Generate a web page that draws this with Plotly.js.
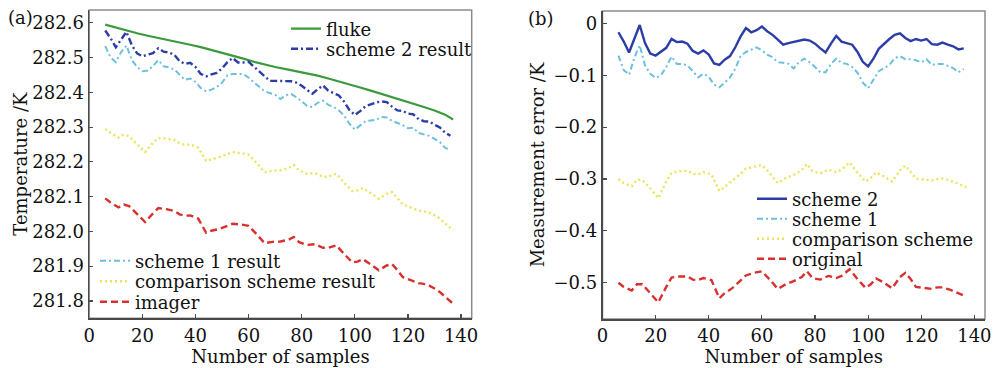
<!DOCTYPE html>
<html>
<head>
<meta charset="utf-8">
<script src="https://cdn.plot.ly/plotly-3.0.1.min.js"></script>
<style>
html,body{margin:0;padding:0;background:#fff;}
#chart{width:996px;height:368px;}
</style>
</head>
<body>
<div id="chart"></div>
<script>
// ---- data ----
var xDense = [6,8,10,12,14,16,18,20,22,24,26,28,30,32,34,36,38,40,42,44,46,48,50,52,54,56,58,60,62,64,66,68,70,72,74,76,78,80,82,84,86,88,90,92,94,96,98,100,102,104,106,108,110,112,114,116,118,120,122,124,126,128,130,132,134,136];
var xFluke = [6,10,14,18,22,26,30,34,38,42,46,50,54,58,62,66,70,74,78,82,86,90,94,98,102,106,110,114,118,122,126,130,134,137];
var xSparse = [6,8,11,13,15,18,21,24,26,29,32,34,36,38,41,44,46,49,52,54,57,60,63,66,69,72,75,77,79,82,85,88,90,93,96,99,101,103,106,109,112,114,116,118,121,124,126,128,131,134,137];

// panel (a): temperatures (K)
var flukeTemp = [282.595,282.586,282.577,282.570,282.563,282.557,282.550,282.543,282.537,282.530,282.522,282.515,282.507,282.497,282.488,282.480,282.473,282.467,282.461,282.455,282.448,282.440,282.432,282.423,282.414,282.405,282.396,282.387,282.377,282.367,282.358,282.348,282.336,282.322];
var scheme2Temp = [282.578,282.556,282.530,282.552,282.574,282.536,282.512,282.504,282.508,282.513,282.527,282.517,282.515,282.508,282.490,282.482,282.485,282.473,282.453,282.446,282.452,282.456,282.469,282.487,282.499,282.486,282.486,282.488,282.474,282.461,282.447,282.433,282.433,282.432,282.433,282.432,282.428,282.419,282.407,282.396,282.409,282.420,282.405,282.398,282.391,282.373,282.349,282.335,282.346,282.360,282.366,282.371,282.374,282.372,282.359,282.348,282.347,282.339,282.337,282.323,282.317,282.316,282.307,282.299,282.284,282.275];
var scheme1Temp = [282.533,282.501,282.487,282.516,282.535,282.493,282.473,282.461,282.463,282.476,282.493,282.475,282.472,282.466,282.451,282.436,282.440,282.430,282.412,282.403,282.408,282.415,282.428,282.449,282.453,282.453,282.453,282.442,282.429,282.418,282.403,282.398,282.393,282.381,282.392,282.395,282.386,282.374,282.361,282.358,282.370,282.376,282.364,282.358,282.348,282.333,282.309,282.293,282.306,282.317,282.319,282.321,282.329,282.328,282.318,282.313,282.306,282.297,282.298,282.283,282.280,282.275,282.266,282.257,282.240,282.235];
var comparisonTemp = [282.295,282.283,282.270,282.279,282.274,282.252,282.228,282.255,282.269,282.267,282.263,282.253,282.249,282.250,282.241,282.203,282.207,282.214,282.222,282.228,282.225,282.221,282.197,282.170,282.175,282.176,282.182,282.191,282.175,282.166,282.168,282.157,282.158,282.166,282.140,282.116,282.118,282.125,282.110,282.094,282.108,282.113,282.096,282.078,282.069,282.060,282.058,282.054,282.043,282.024,282.003];
var imagerTemp = [282.095,282.083,282.069,282.077,282.073,282.050,282.027,282.052,282.067,282.064,282.059,282.049,282.045,282.046,282.037,281.996,282.002,282.007,282.017,282.022,282.020,282.016,281.992,281.966,281.970,281.971,281.976,281.984,281.969,281.961,281.963,281.953,281.953,281.960,281.935,281.911,281.913,281.920,281.905,281.888,281.902,281.906,281.889,281.869,281.860,281.851,281.849,281.844,281.832,281.813,281.792];

// panel (b): measurement errors (K)
var scheme2Err = [-0.017,-0.035,-0.056,-0.030,-0.003,-0.038,-0.058,-0.062,-0.055,-0.047,-0.030,-0.036,-0.035,-0.039,-0.053,-0.058,-0.052,-0.060,-0.077,-0.080,-0.070,-0.063,-0.046,-0.025,-0.009,-0.017,-0.013,-0.006,-0.015,-0.022,-0.031,-0.041,-0.038,-0.036,-0.033,-0.031,-0.033,-0.039,-0.048,-0.056,-0.039,-0.024,-0.035,-0.038,-0.041,-0.055,-0.074,-0.083,-0.068,-0.049,-0.039,-0.030,-0.022,-0.019,-0.028,-0.034,-0.030,-0.033,-0.030,-0.040,-0.041,-0.037,-0.041,-0.044,-0.050,-0.048];
var scheme1Err = [-0.062,-0.090,-0.099,-0.066,-0.042,-0.081,-0.097,-0.105,-0.100,-0.084,-0.064,-0.078,-0.078,-0.081,-0.092,-0.104,-0.097,-0.103,-0.118,-0.123,-0.114,-0.104,-0.087,-0.063,-0.055,-0.050,-0.046,-0.052,-0.060,-0.065,-0.075,-0.076,-0.078,-0.087,-0.074,-0.068,-0.075,-0.084,-0.094,-0.094,-0.078,-0.068,-0.076,-0.078,-0.084,-0.095,-0.114,-0.125,-0.108,-0.092,-0.086,-0.080,-0.067,-0.063,-0.069,-0.069,-0.071,-0.075,-0.069,-0.080,-0.078,-0.078,-0.082,-0.086,-0.094,-0.088];
var comparisonErr = [-0.300,-0.308,-0.314,-0.301,-0.302,-0.318,-0.337,-0.305,-0.288,-0.285,-0.284,-0.290,-0.291,-0.287,-0.291,-0.323,-0.315,-0.303,-0.290,-0.280,-0.276,-0.273,-0.289,-0.308,-0.298,-0.292,-0.283,-0.271,-0.285,-0.289,-0.282,-0.287,-0.282,-0.268,-0.288,-0.305,-0.298,-0.287,-0.295,-0.305,-0.283,-0.274,-0.286,-0.299,-0.301,-0.303,-0.300,-0.299,-0.303,-0.310,-0.316];
var originalErr = [-0.500,-0.508,-0.515,-0.503,-0.503,-0.520,-0.538,-0.508,-0.490,-0.488,-0.488,-0.494,-0.495,-0.491,-0.495,-0.530,-0.520,-0.510,-0.495,-0.486,-0.481,-0.478,-0.494,-0.512,-0.503,-0.497,-0.489,-0.478,-0.491,-0.494,-0.487,-0.491,-0.487,-0.474,-0.493,-0.510,-0.503,-0.492,-0.500,-0.511,-0.489,-0.481,-0.493,-0.508,-0.510,-0.512,-0.509,-0.509,-0.514,-0.521,-0.527];

var namesA = ['fluke','scheme 2 result','scheme 1 result','comparison scheme result','imager'];
var namesB = ['scheme 2','scheme 1','comparison scheme','original'];
var xTitle = 'Number of samples';
var yTitleA = 'Temperature /K';
var yTitleB = 'Measurement error /K';

// ---- styles ----
var cGreen = '#3a9a3c', cBlue = '#2c3ea6', cLight = '#6dbfdc', cYellow = '#ebe35a', cRed = '#d8302d';
var FONT = 'DejaVu Serif, serif';
var FS = 18;

var W = 996, H = 368;
function px(v){return v/W;}
function py(v){return 1 - v/H;}

var traces = [
  {x:xFluke, y:flukeTemp, name:namesA[0], xaxis:'x', yaxis:'y', legend:'legend',
   line:{color:cGreen, width:2.2}},
  {x:xDense, y:scheme2Temp, name:namesA[1], xaxis:'x', yaxis:'y', legend:'legend2',
   line:{color:cBlue, width:2.4, dash:'7px,3px,2px,3px'}},
  {x:xDense, y:scheme1Temp, name:namesA[2], xaxis:'x', yaxis:'y', legend:'legend3',
   line:{color:cLight, width:2, dash:'6px,3px,2px,3px'}},
  {x:xSparse, y:comparisonTemp, name:namesA[3], xaxis:'x', yaxis:'y', legend:'legend4',
   line:{color:cYellow, width:2.4, dash:'2px,3px'}},
  {x:xSparse, y:imagerTemp, name:namesA[4], xaxis:'x', yaxis:'y', legend:'legend5',
   line:{color:cRed, width:2.4, dash:'7px,4px'}},

  {x:xDense, y:scheme2Err, name:namesB[0], xaxis:'x2', yaxis:'y2', legend:'legend6',
   line:{color:cBlue, width:2.4}},
  {x:xDense, y:scheme1Err, name:namesB[1], xaxis:'x2', yaxis:'y2', legend:'legend7',
   line:{color:cLight, width:2, dash:'6px,3px,2px,3px'}},
  {x:xSparse, y:comparisonErr, name:namesB[2], xaxis:'x2', yaxis:'y2', legend:'legend8',
   line:{color:cYellow, width:2.4, dash:'2px,3px'}},
  {x:xSparse, y:originalErr, name:namesB[3], xaxis:'x2', yaxis:'y2', legend:'legend9',
   line:{color:cRed, width:2.4, dash:'7px,4px'}}
];
traces.forEach(function(t){ t.type='scatter'; t.mode='lines'; });

var axisCommon = {
  showgrid:false, zeroline:false, showline:true, linecolor:'#4a4a4a', linewidth:1.8,
  ticks:'inside', ticklen:4, tickwidth:1.2, tickcolor:'#4a4a4a',
  tickfont:{family:FONT, size:FS, color:'#111'}
};
function ax(extra){ var o = JSON.parse(JSON.stringify(axisCommon)); for (var k in extra) o[k]=extra[k]; return o; }

function lg(xp, yp){
  return {bgcolor:'rgba(0,0,0,0)', borderwidth:0, xanchor:'left', yanchor:'middle',
    x:px(xp), y:py(yp), font:{family:FONT, size:FS, color:'#111'}};
}
var titleFont = {family:FONT, size:FS, color:'#111'};

var layout = {
  width:W, height:H,
  margin:{l:0, r:0, t:0, b:0},
  paper_bgcolor:'#fff', plot_bgcolor:'#fff',
  showlegend:true,
  xaxis: ax({domain:[px(89.3), px(471.7)], range:[0,144], dtick:20, tick0:0, anchor:'y',
    title:{text:xTitle, font:titleFont, standoff:1}}),
  yaxis: ax({domain:[py(318.3), py(10)], range:[281.75,282.637], dtick:0.1, tick0:281.8, tickformat:'.1f', anchor:'x',
    title:{text:yTitleA, font:titleFont, standoff:0}}),
  xaxis2: ax({domain:[px(602.5), px(985)], range:[0,144], dtick:20, tick0:0, anchor:'y2',
    title:{text:xTitle, font:titleFont, standoff:1}}),
  yaxis2: ax({domain:[py(319), py(11)], range:[-0.570,0.024], dtick:0.1, tick0:0, anchor:'x2',
    title:{text:yTitleB, font:titleFont, standoff:4}}),
  legend: lg(286, 29),
  legend2: lg(286, 49),
  legend3: lg(95, 261),
  legend4: lg(95, 281.5),
  legend5: lg(95, 302),
  legend6: lg(752, 199),
  legend7: lg(752, 219),
  legend8: lg(752, 239),
  legend9: lg(752, 259),
  shapes:[
    {type:'rect', xref:'x domain', yref:'y domain', x0:0, x1:1, y0:0, y1:1, line:{color:'#8c8c8c', width:1.5}, layer:'below'},
    {type:'rect', xref:'x2 domain', yref:'y2 domain', x0:0, x1:1, y0:0, y1:1, line:{color:'#8c8c8c', width:1.5}, layer:'below'}
  ],
  annotations:[
    {text:'(a)', xref:'paper', yref:'paper', x:px(20), y:py(17), xanchor:'center', yanchor:'middle', showarrow:false,
     font:titleFont},
    {text:'(b)', xref:'paper', yref:'paper', x:px(541), y:py(18), xanchor:'center', yanchor:'middle', showarrow:false,
     font:titleFont}
  ]
};

Plotly.newPlot('chart', traces, layout, {displayModeBar:false, staticPlot:true});
</script>
</body>
</html>
